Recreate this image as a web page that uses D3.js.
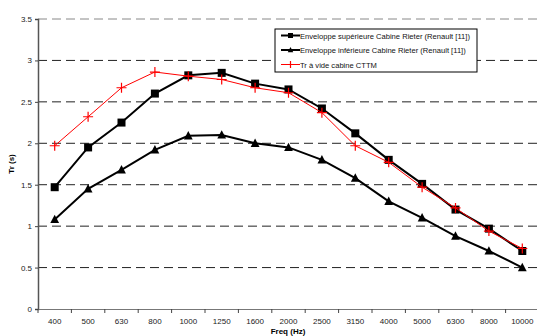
<!DOCTYPE html>
<html>
<head>
<meta charset="utf-8">
<script src="https://cdn.jsdelivr.net/npm/d3@7"></script>
<style>
  body { margin: 0; background: #fff; }
  svg { display: block; font-family: "Liberation Sans", Arial, sans-serif; }
</style>
</head>
<body>
<div id="chart"></div>
<script>
const freqs = ['400', '500', '630', '800', '1000', '1250', '1600', '2000', '2500', '3150', '4000', '5000', '6300', '8000', '10000'];
const upperRieter = [1.47, 1.95, 2.25, 2.6, 2.82, 2.85, 2.72, 2.65, 2.42, 2.12, 1.8, 1.51, 1.2, 0.97, 0.7];
const lowerRieter = [1.08, 1.45, 1.68, 1.92, 2.09, 2.1, 2.0, 1.95, 1.8, 1.58, 1.3, 1.1, 0.88, 0.7, 0.5];
const cttm = [1.97, 2.32, 2.67, 2.86, 2.81, 2.77, 2.67, 2.61, 2.37, 1.97, 1.77, 1.47, 1.22, 0.94, 0.73];
const yTicks = [0, 0.5, 1, 1.5, 2, 2.5, 3, 3.5];

const series = [
  { name: 'Enveloppe supérieure Cabine Rieter (Renault [11])', values: upperRieter, color: '#000', width: 2, marker: 'square' },
  { name: 'Enveloppe inférieure Cabine Rieter (Renault [11])', values: lowerRieter, color: '#000', width: 2, marker: 'triangle' },
  { name: 'Tr à vide cabine CTTM', values: cttm, color: '#ff0000', width: 1, marker: 'plus' }
];

const width = 537, height = 336;
const MARGIN = { top: 19, right: -2, bottom: 27, left: 38 };
const innerW = width - MARGIN.left - MARGIN.right;
const innerH = height - MARGIN.top - MARGIN.bottom;

const svg = d3.select('#chart').append('svg')
  .attr('width', width).attr('height', height);
const g = svg.append('g').attr('transform', `translate(${MARGIN.left},${MARGIN.top})`);

const x = d3.scaleBand().domain(freqs).range([0, innerW]);
const y = d3.scaleLinear().domain([0, 3.5]).range([innerH, 0]);
const cx = (d) => x(d) + x.bandwidth() / 2;

// gridlines
g.append('g').selectAll('line').data(yTicks.filter((t) => t > 0)).join('line')
  .attr('x1', 0).attr('x2', innerW)
  .attr('y1', (d) => y(d)).attr('y2', (d) => y(d))
  .attr('stroke', (d) => d === 3.5 ? '#888' : '#222')
  .attr('stroke-width', 1)
  .attr('stroke-dasharray', '9,5');

// axes
const yAxis = g.append('g').call(d3.axisLeft(y).tickValues(yTicks).tickSize(3).tickFormat((d) => d));
const xAxis = g.append('g').attr('transform', `translate(0,${innerH})`)
  .call(d3.axisBottom(x).tickSize(0).tickPadding(9));
xAxis.append('g').selectAll('line').data(freqs).join('line')
  .attr('x1', (d) => x(d)).attr('x2', (d) => x(d))
  .attr('y1', 0).attr('y2', 4).attr('stroke', '#444');
[xAxis, yAxis].forEach((axis) => {
  axis.selectAll('text').style('font-size', '8px').style('fill', '#222');
  axis.selectAll('.tick line').attr('stroke', '#444');
});
yAxis.select('path.domain').attr('stroke', '#555').attr('stroke-width', 1.5);
xAxis.select('path.domain').attr('stroke', '#777').attr('stroke-width', 1);
yAxis.selectAll('text').attr('x', -6);

// axis titles
svg.append('text')
  .attr('transform', `translate(14,${MARGIN.top + innerH / 2}) rotate(-90)`)
  .attr('text-anchor', 'middle')
  .style('font-size', '8px').style('font-weight', 'bold')
  .text('Tr (s)');
svg.append('text')
  .attr('x', 288).attr('y', 334)
  .attr('text-anchor', 'middle')
  .style('font-size', '8px').style('font-weight', 'bold')
  .text('Freq (Hz)');

function drawMarker(sel, type, color, size) {
  if (type === 'square') {
    sel.append('rect').attr('x', -size / 2).attr('y', -size / 2)
      .attr('width', size).attr('height', size).attr('fill', color);
  } else if (type === 'triangle') {
    const h = size;
    sel.append('path')
      .attr('d', `M0,${-h * 0.6}L${h * 0.55},${h * 0.45}L${-h * 0.55},${h * 0.45}Z`)
      .attr('fill', color);
  } else {
    sel.append('path')
      .attr('d', `M${-size / 2},0H${size / 2}M0,${-size / 2}V${size / 2}`)
      .attr('stroke', color).attr('stroke-width', 1.2).attr('fill', 'none');
  }
}

const line = d3.line().x((d, i) => cx(freqs[i])).y((d) => y(d));
series.forEach((s) => {
  g.append('path').datum(s.values)
    .attr('d', line).attr('fill', 'none')
    .attr('stroke', s.color).attr('stroke-width', s.width);
  const pts = g.append('g').selectAll('g').data(s.values).join('g')
    .attr('transform', (d, i) => `translate(${cx(freqs[i])},${y(d)})`);
  pts.each(function () {
    drawMarker(d3.select(this), s.marker, s.color, s.marker === 'plus' ? 10 : 8);
  });
});

// legend
const lg = svg.append('g').attr('transform', 'translate(275,29)');
lg.append('rect').attr('width', 202).attr('height', 43)
  .attr('fill', '#fff').attr('stroke', '#000').attr('stroke-width', 1);
series.forEach((s, i) => {
  const row = lg.append('g').attr('transform', `translate(0,${6.5 + i * 14.5})`);
  row.append('line').attr('x1', 6).attr('x2', 25).attr('y1', 0).attr('y2', 0)
    .attr('stroke', s.color).attr('stroke-width', s.width);
  const m = row.append('g').attr('transform', 'translate(15.5,0)');
  drawMarker(m, s.marker, s.color, s.marker === 'plus' ? 7 : 5);
  row.append('text').attr('x', 25).attr('y', 3)
    .style('font-size', '7.6px').style('fill', '#111')
    .text(s.name);
});
</script>
</body>
</html>
